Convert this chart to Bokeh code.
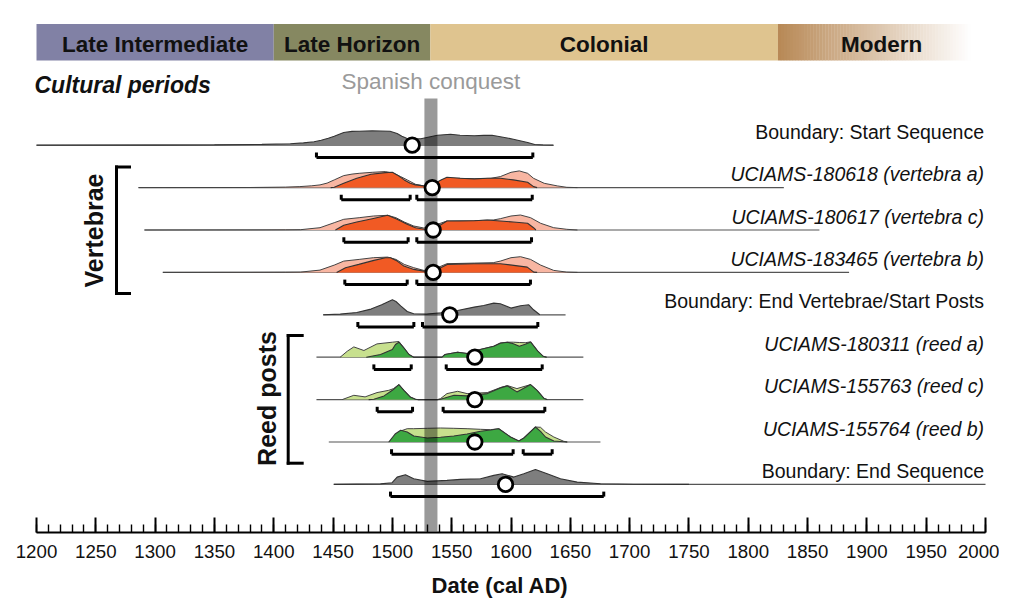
import numpy as np
from bokeh.plotting import figure
from bokeh.models import Range1d, FixedTicker
from bokeh.core.properties import value
from bokeh.embed import file_html
from bokeh.resources import INLINE

# ---------------- data ----------------
periods = ["Late Intermediate", "Late Horizon", "Colonial", "Modern"]
period_start = [1200, 1400, 1532, 1825]
period_end = [1400, 1532, 1825, 2000]
period_colors = ["#8181A5", "#868861", "#DFC48F", None]

conquest = (1527, 1538)

labels = [
    "Boundary: Start Sequence",
    "UCIAMS-180618 (vertebra a)",
    "UCIAMS-180617 (vertebra c)",
    "UCIAMS-183465 (vertebra b)",
    "Boundary: End Vertebrae/Start Posts",
    "UCIAMS-180311 (reed a)",
    "UCIAMS-155763 (reed c)",
    "UCIAMS-155764 (reed b)",
    "Boundary: End Sequence",
]
kinds = ["boundary", "vertebra", "vertebra", "vertebra", "boundary",
         "reed", "reed", "reed", "boundary"]

# extent of each row's thin base line (cal AD)
line_start = [1200, 1286, 1291, 1306.5, 1441.7, 1436, 1436, 1446.4, 1450.6]
line_end = [1635.6, 1830, 1860, 1885, 1646, 1661, 1661, 1675.4, 2000]

# medians (cal AD)
medians = [1516.7, 1533.6, 1534.4, 1534.4, 1548.4, 1569.5, 1569.5, 1569.5, 1595.4]

# 95.4% ranges (cal AD)
ranges = [
    [(1436.0, 1618.4)],
    [(1456.9, 1515.0), (1520.6, 1617.9)],
    [(1459.1, 1513.3), (1520.6, 1617.3)],
    [(1459.9, 1512.5), (1520.6, 1616.4)],
    [(1470.9, 1518.1), (1525.4, 1622.6)],
    [(1484.4, 1515.9), (1545.4, 1626.3)],
    [(1487.2, 1517.0), (1542.8, 1628.5)],
    [(1499.3, 1601.8), (1610.3, 1634.7)],
    [(1498.4, 1678.2)],
]

# unmodelled (light) probability distributions: years, relative heights
unmod_years = [
    None,
    [1286, 1380, 1410, 1422, 1432, 1439, 1445, 1451, 1459, 1466, 1472, 1483, 1494, 1501, 1507,
     1512.5, 1519.5, 1526.5, 1532, 1538, 1546, 1557, 1569, 1583, 1591, 1600, 1607, 1614, 1619,
     1628, 1639, 1647, 1656],
    [1291, 1380, 1410, 1422.5, 1439, 1451, 1459, 1472, 1484, 1496, 1503, 1510, 1518, 1526.5,
     1532, 1538, 1546, 1569, 1585, 1591, 1600, 1608, 1616.5, 1625, 1636, 1647, 1656],
    [1306.5, 1380, 1410, 1422.5, 1439, 1451, 1459, 1472, 1484, 1496, 1503, 1510, 1518, 1526.5,
     1532, 1538, 1546, 1569, 1585, 1591, 1600, 1608, 1616.5, 1625, 1636, 1647, 1656],
    None,
    [1456, 1462, 1467.5, 1476, 1487, 1500, 1505.5, 1509.7, 1514, 1518, 1541.8, 1544.4, 1555,
     1563, 1574, 1585.5, 1591, 1597, 1602, 1607, 1612, 1616.5, 1622.6, 1627, 1630],
    [1457.7, 1467.5, 1477, 1487, 1497, 1501, 1505.5, 1509.7, 1515, 1519.5, 1522, 1538, 1540.6,
     1546, 1555, 1563, 1580, 1591, 1597, 1605, 1616.5, 1622, 1628, 1630.5],
    [1497, 1502.6, 1507, 1512.5, 1518, 1529.4, 1540.6, 1551.8, 1563, 1574.3, 1582.7, 1589.7,
     1599.6, 1606.6, 1610.8, 1620.6, 1624.9, 1629.1, 1636.1, 1644.5, 1647.4],
    None,
]
unmod_heights = [
    None,
    [0, 0.1, 0.5, 1, 1.8, 2.7, 4.5, 7.7, 12, 13.5, 14.3, 15.3, 16, 14.3, 11, 7.7, 3.3, 1.7, 3, 6,
     9.3, 9.3, 8.7, 9.3, 11, 15.3, 16.7, 14.3, 9.3, 4.3, 1.7, 0.3, 0],
    [0, 0.1, 0.2, 0.3, 2.3, 7.3, 10.7, 12.3, 14, 14.7, 12.3, 8, 4, 2, 3, 5.7, 9, 9.3, 10, 11.3,
     14, 15, 12.3, 6.7, 2.3, 0.7, 0],
    [0, 0.1, 0.2, 0.3, 2.3, 7.3, 11.3, 13, 14.7, 15.3, 13, 8, 4.7, 2, 3, 4.7, 8.7, 9.3, 9.7,
     11.3, 14.7, 15.7, 13, 7.3, 2, 0.3, 0],
    None,
    [0, 6, 10.3, 6.7, 13.3, 15, 15.7, 9.3, 2.7, 0, 0, 2.7, 5, 3.7, 7.7, 11, 14.3, 15, 15, 14.7,
     14.5, 15.3, 6, 1, 0],
    [0, 4.3, 2.7, 7, 9.3, 11, 15, 9.3, 2.7, 0.3, 0, 0, 1, 6, 8.3, 6, 7, 12, 14, 11, 15, 9.3, 1, 0],
    [0, 5, 11, 13.3, 13.3, 13.7, 14, 13.7, 13.3, 12.7, 12.3, 13.3, 5, 1, 4, 15, 14.7, 10, 5,
     0.7, 0],
    None,
]

# modelled (dark) probability distributions: years, relative heights
mod_years = [
    [1200, 1300, 1350, 1390, 1414, 1425, 1434, 1440, 1446, 1451, 1459, 1466, 1472, 1483, 1490,
     1498, 1504, 1508, 1512, 1518, 1524, 1530, 1538, 1549, 1557, 1569, 1577, 1584, 1591, 1602,
     1614, 1620, 1627, 1636],
    [1448, 1451, 1459, 1470, 1482, 1494, 1500, 1504, 1510, 1515, 1519.5, 1526.5, 1535, 1541,
     1546, 1557, 1569, 1580, 1591, 1602, 1614, 1619, 1622],
    [1452, 1459, 1470, 1483, 1496, 1504, 1512.5, 1519.5, 1527, 1532, 1538, 1546, 1557, 1569,
     1580, 1591, 1602, 1614, 1619, 1621],
    [1453, 1460.5, 1471.7, 1484.4, 1494.2, 1498.4, 1504.1, 1509.7, 1518.1, 1526.5, 1532, 1537.8,
     1546.2, 1568.6, 1591, 1602.4, 1613.7, 1619.2, 1622],
    [1441.7, 1456, 1470, 1482, 1491, 1500, 1503, 1507, 1512.5, 1518, 1529, 1541, 1555, 1569,
     1577, 1585.5, 1591, 1600, 1608, 1615, 1619, 1624.3],
    [1478, 1490, 1500, 1502.6, 1505.5, 1509.7, 1514, 1518, 1541.8, 1544.4, 1555, 1563, 1574,
     1585.5, 1591, 1597, 1602, 1607, 1612, 1616.5, 1622.6, 1627, 1630],
    [1480, 1484.4, 1493, 1500, 1505.5, 1509.7, 1515, 1519.5, 1522, 1538, 1540.6, 1552, 1563,
     1580, 1591, 1597, 1605, 1616.5, 1622, 1628, 1630.5],
    [1497, 1502.6, 1507, 1512.5, 1518, 1529.4, 1540.6, 1551.8, 1563, 1574.3, 1582.7, 1589.7,
     1599.6, 1606.6, 1610.8, 1620.6, 1624.9, 1629.1, 1636.1, 1644.5, 1647.4],
    [1450.6, 1490, 1499.8, 1504, 1511, 1518, 1529.4, 1546, 1557.4, 1574.3, 1585.5, 1592.5,
     1602.4, 1610.8, 1620.6, 1630.5, 1641.7, 1655.8, 1675.5, 1703.6, 1750],
]
mod_heights = [
    [0, 0.1, 0.3, 0.8, 1.5, 2.3, 3.5, 5, 7, 9, 12.7, 13.8, 14, 14.3, 14.2, 14, 11.7, 9, 7, 6.5,
     6.5, 8, 10, 11, 10, 9.5, 9.8, 10, 8.5, 6, 2.7, 0.7, 0.2, 0],
    [0, 0.3, 4.3, 9.3, 13.3, 15, 15.3, 12.7, 7.7, 4.3, 2.7, 1.7, 2.7, 7.7, 10.3, 9.3, 8.7, 9.3,
     9.3, 7.7, 5.3, 1, 0],
    [0, 4.7, 8, 11.3, 14.7, 10.7, 5.7, 2.3, 0.7, 1.5, 3.3, 9, 9, 9.3, 10, 9, 8, 6.7, 2.3, 0],
    [0, 4.7, 8, 12, 14.7, 14.7, 11.3, 6.3, 3, 1.3, 2, 3, 8, 8.7, 8.7, 7, 5.3, 0.3, 0],
    [0, 0.7, 2.3, 5.7, 10, 15, 13.3, 9, 3.3, 1, 0.7, 2, 4.3, 7.7, 9.3, 11.7, 11, 6.7, 9, 10, 5, 0],
    [0, 2.7, 7.7, 12.7, 15, 9.3, 2.7, 0, 0, 2.7, 5, 3.7, 7.7, 11, 14, 15, 13.5, 11, 13, 15.3, 6,
     1, 0],
    [0, 0.3, 3.7, 9.3, 15, 9.3, 2.7, 0.3, 0, 0, 0.3, 4.3, 3.7, 6, 11.7, 13.7, 7.7, 15, 9.3, 1, 0],
    [0, 8.3, 11.7, 10, 6, 4, 4.7, 6, 8, 10.7, 12, 13.3, 5, 1, 4, 15, 10.7, 5, 1, 0.3, 0],
    [0, 0.5, 1.7, 7.3, 9.7, 5.7, 3, 4, 5, 5.7, 9, 10.7, 7.3, 10.7, 15, 10.7, 5.7, 2.3, 0.7, 0.2, 0],
]

x_ticks = list(range(1200, 2001, 50))
x_minor = list(range(1200, 2001, 10))

# ---------------- styling / layout ----------------
FONT = value("Liberation Sans")
PXR = 1.18625            # screen px per year
TXT = 8                   # text glyph vertical correction (px)
def yr(px):               # screen x -> year
    return 1200 + (px - 36) / PXR

colors = {
    "boundary": ("#7E7E7E", None),
    "vertebra": ("#F15A24", "#F8B6A2"),
    "reed": ("#3DA842", "#C7E08E"),
}

W, H = 999, 603
FRAME_H = 532
p = figure(width=W, height=H, output_backend="svg", toolbar_location=None,
           x_range=Range1d(yr(0), yr(W)), y_range=Range1d(FRAME_H, 0),
           y_axis_location=None, min_border_left=0, min_border_right=0,
           min_border_top=0, min_border_bottom=H - FRAME_H)
p.xgrid.visible = False
p.ygrid.visible = False
p.outline_line_color = None
p.background_fill_color = "white"
p.border_fill_color = "white"

ax = p.xaxis[0]
ax.bounds = (1200, 2000)
ax.ticker = FixedTicker(ticks=x_ticks, minor_ticks=x_minor)
ax.axis_line_width = 2.2
ax.axis_line_color = "black"
ax.major_tick_in = 15
ax.major_tick_out = 0
ax.minor_tick_in = 8
ax.minor_tick_out = 0
ax.major_tick_line_width = 2
ax.minor_tick_line_width = 1.4
ax.major_tick_line_color = "black"
ax.minor_tick_line_color = "black"
ax.major_label_text_font = "Liberation Sans"
ax.major_label_text_font_size = "18.7px"
ax.major_label_text_color = "#111111"
ax.major_label_standoff = 12
ax.axis_label = "Date (cal AD)"
ax.axis_label_text_font = "Liberation Sans"
ax.axis_label_text_font_size = "22px"
ax.axis_label_text_font_style = "bold"
ax.axis_label_text_color = "#111111"
ax.axis_label_standoff = 12

# cultural periods bar
for name, s, e, c in zip(periods, period_start, period_end, period_colors):
    if c is not None:
        p.quad(left=s, right=e, top=23.5, bottom=60, fill_color=c, line_color=None)
    else:
        n = 70
        edges = np.linspace(s, e, n + 1)
        c0 = np.array([184, 137, 86])
        cols = []
        for k in range(n):
            t = min(1.0, (k + 0.5) / n * 1.08)
            rgb = (c0 + (255 - c0) * t).astype(int)
            cols.append("#%02x%02x%02x" % tuple(rgb))
        p.quad(left=edges[:-1], right=edges[1:] + 0.3, top=23.5, bottom=60,
               fill_color=cols, line_color=None)
p.text(x=[(s + e) / 2 for s, e in zip(period_start, period_end)], y=[51.7 - TXT] * 4,
       text=periods, text_font=FONT, text_font_size=value("22.5px"), text_font_style="bold",
       text_align="center", text_baseline="alphabetic", text_color="#111111")

p.text(x=[yr(34)], y=[92 - TXT], text=["Cultural periods"], text_font=FONT,
       text_font_size=value("23px"), text_font_style="bold italic",
       text_align="left", text_baseline="alphabetic", text_color="#111111")

p.text(x=[sum(conquest) / 2], y=[89 - TXT], text=["Spanish conquest"], text_font=FONT,
       text_font_size=value("22.5px"), text_align="center", text_baseline="alphabetic",
       text_color="#9A9A9A")

# rows
def base(i):
    return 144.7 + 42.4 * i

for i in range(len(labels)):
    b = base(i)
    dark, light = colors[kinds[i]]
    p.line(x=[line_start[i], line_end[i]], y=[b, b], line_color="#555555", line_width=1.2)
    if unmod_years[i] is not None:
        yy = [b - h for h in unmod_heights[i]]
        p.varea(x=unmod_years[i], y1=[b] * len(yy), y2=yy, fill_color=light)
        p.line(x=unmod_years[i], y=yy, line_color="#444444", line_width=1)
    yy = [b - h for h in mod_heights[i]]
    p.varea(x=mod_years[i], y1=[b] * len(yy), y2=yy, fill_color=dark)
    p.line(x=mod_years[i], y=yy, line_color="#333333", line_width=1.1)

# Spanish conquest band
p.quad(left=conquest[0], right=conquest[1], top=98, bottom=531, fill_color="black",
       fill_alpha=0.4, line_color=None)

# ranges and medians
for i in range(len(labels)):
    yb = base(i) + 12.2
    for (a, c) in ranges[i]:
        p.segment(x0=[a, a, c], y0=[yb, yb, yb], x1=[c, a, c], y1=[yb, yb - 5, yb - 5],
                  line_color="black", line_width=3, line_cap="butt")
p.scatter(x=medians, y=[base(i) for i in range(len(medians))], size=14.5,
          fill_color="white", line_color="black", line_width=2.8)

# row labels
for i, lab in enumerate(labels):
    style = "normal" if kinds[i] == "boundary" else "italic"
    p.text(x=[yr(983.5)], y=[base(i) - 5.4 - TXT], text=[lab], text_font=FONT,
           text_font_size=value("19.5px"), text_font_style=style, text_align="right",
           text_baseline="alphabetic", text_color="#111111")

# group brackets
def bracket(xpx, xtick, y0, y1):
    p.segment(x0=[yr(xpx)] * 3, y0=[y0, y0, y1], x1=[yr(xpx), yr(xtick), yr(xtick)],
              y1=[y1, y0, y1], line_color="black", line_width=3, line_cap="square")

bracket(116, 129, 166.5, 293)
bracket(287.7, 301.7, 335, 462.7)
p.text(x=[yr(101.5 - TXT)], y=[230], text=["Vertebrae"], angle=np.pi / 2, text_font=FONT,
       text_font_size=value("25px"), text_font_style="bold", text_align="center",
       text_baseline="alphabetic", text_color="#111111")
p.text(x=[yr(274 - TXT)], y=[398], text=["Reed posts"], angle=np.pi / 2, text_font=FONT,
       text_font_size=value("25px"), text_font_style="bold", text_align="center",
       text_baseline="alphabetic", text_color="#111111")

open("out.html", "w").write(file_html(p, INLINE))
